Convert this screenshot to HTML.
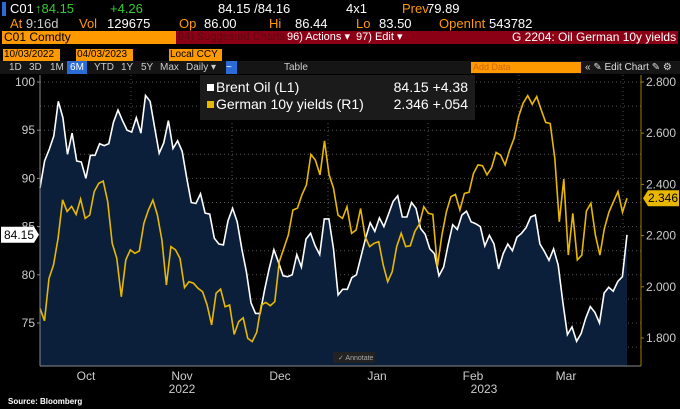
<!DOCTYPE html>
<html><head><meta charset="utf-8">
<style>
body{margin:0;width:680px;height:408px;background:#000;overflow:hidden;font-family:"Liberation Sans",sans-serif;color:#ddd;position:relative}
.t{position:absolute;white-space:nowrap;font-size:13px;line-height:14px}
.s{font-size:10px;line-height:13px;top:61px;color:#ccc}
</style></head><body>
<div>
<div class="t" style="left:2px;top:2px;width:4px;height:14px;background:#2a6bd8"></div>
<div class="t" style="left:10px;top:2px;color:#fff">C01</div>
<div class="t" style="left:35px;top:2px;color:#3c3">↑84.15</div>
<div class="t" style="left:110px;top:2px;color:#3c3">+4.26</div>
<div class="t" style="left:218px;top:2px;color:#fff">84.15 /84.16</div>
<div class="t" style="left:346px;top:2px;color:#fff">4x1</div>
<div class="t" style="left:402px;top:2px;color:#f90">Prev</div>
<div class="t" style="left:427px;top:2px;color:#fff">79.89</div>
<div class="t" style="left:10px;top:17px;color:#f90">At <span style="color:#ccc">9:16d</span></div>
<div class="t" style="left:79px;top:17px;color:#f90">Vol</div>
<div class="t" style="left:107px;top:17px;color:#fff">129675</div>
<div class="t" style="left:179px;top:17px;color:#f90">Op</div>
<div class="t" style="left:204px;top:17px;color:#fff">86.00</div>
<div class="t" style="left:269px;top:17px;color:#f90">Hi</div>
<div class="t" style="left:295px;top:17px;color:#fff">86.44</div>
<div class="t" style="left:356px;top:17px;color:#f90">Lo</div>
<div class="t" style="left:379px;top:17px;color:#fff">83.50</div>
<div class="t" style="left:439px;top:17px;color:#f90">OpenInt</div>
<div class="t" style="left:489px;top:17px;color:#fff">543782</div>
<div class="t" style="left:2px;top:31px;width:172px;height:13px;background:#f90;color:#000;font-size:12px;line-height:13px;padding-left:2px">C01 Comdty</div>
<div class="t" style="left:176px;top:31px;width:502px;height:13px;background:#8b0015"></div>
<div class="t" style="left:178px;top:31px;font-size:11px;line-height:13px;color:#5a0a12">94) Suggested Charts</div>
<div class="t" style="left:287px;top:31px;font-size:11px;line-height:13px;color:#fff">96) Actions ▾</div>
<div class="t" style="left:356px;top:31px;font-size:11px;line-height:13px;color:#fff">97) Edit ▾</div>
<div class="t" style="left:512px;top:31px;font-size:12px;line-height:13px;color:#fff">G 2204: Oil German 10y yields</div>
<div class="t" style="left:3px;top:49px;width:56px;background:#f90;color:#000;font-size:10px;line-height:12px;padding-left:1px">10/03/2022</div>
<div class="t" style="left:76px;top:49px;width:56px;background:#f90;color:#000;font-size:10px;line-height:12px;padding-left:1px">04/03/2023</div>
<div class="t" style="left:169px;top:49px;width:52px;background:#f90;color:#000;font-size:10px;line-height:12px;padding-left:1px">Local CCY</div>
<div class="t" style="left:0;top:61px;width:680px;height:13px;background:#151515"></div>
<div class="t s" style="left:9px">1D</div>
<div class="t s" style="left:29px">3D</div>
<div class="t s" style="left:50px">1M</div>
<div class="t s" style="left:67px;width:20px;background:#2a6bd8;color:#fff;text-align:center">6M</div>
<div class="t s" style="left:94px">YTD</div>
<div class="t s" style="left:121px">1Y</div>
<div class="t s" style="left:141px">5Y</div>
<div class="t s" style="left:160px">Max</div>
<div class="t s" style="left:186px">Daily ▾</div>
<div class="t s" style="left:226px;width:11px;background:#2a6bd8;color:#fff">~</div>
<div class="t s" style="left:284px">Table</div>
<div class="t" style="left:471px;top:62px;width:108px;height:11px;background:#f90;color:#c60;font-size:9px;line-height:11px;padding-left:2px">Add Data</div>
<div class="t s" style="left:585px;color:#ddd">« ✎ Edit Chart ✎ ⚙</div>
</div>
<svg id="c" width="680" height="408" style="position:absolute;left:0;top:0"></svg>
<div class="t" style="left:8px;top:395px;font-size:8px;font-weight:bold;color:#fff">Source: Bloomberg</div>
<script>
const brent=[89,91.8,93,94.4,98,96.3,92.5,94.7,91.8,91.7,90,92.4,92.4,93.6,93.4,93.6,95.8,97.1,96,95,94.8,96.3,94.7,98.6,98,95.3,92.6,93.7,96,93.1,93.9,92.8,90,87.5,87.4,88.4,86.4,86.3,83.8,83.2,83.1,85.6,86.9,85.5,82.7,80.3,77.1,76,76,78.5,80.7,82.6,81.3,79.9,79.8,80,82.1,80.8,83.7,84.3,83,82.1,85.8,85.8,82.7,
77.9,78.5,78.5,79.7,80,81.9,83.8,85.4,84.5,85.9,85,86.3,87.6,88.2,86,86,87.5,86.9,84.8,84.2,82.7,82.2,79.9,80.8,83.1,85.2,84.7,86.2,86.6,85.5,85.3,85,83,84.1,83.2,80.6,82.2,83.2,82.5,83.9,84.3,84.9,86,86.2,83.2,82.4,81.5,82.7,81,77.2,73.8,74.6,73.1,73.9,75.5,76.7,76.1,75,78.1,78.7,78.3,79.3,79.8,84.15];
const yields=[1.916,1.867,2.033,2.085,2.19,2.34,2.294,2.314,2.283,2.343,2.267,2.28,2.372,2.404,2.413,2.333,2.17,2.111,1.961,2.105,2.144,2.131,2.14,2.248,2.3,2.339,2.28,2.183,2.007,2.157,2.144,2.111,1.997,2.02,2.014,1.994,1.981,1.929,1.851,1.975,1.991,1.922,1.929,1.814,1.864,1.879,1.799,1.786,1.822,1.929,1.939,1.926,1.942,2.098,2.15,2.202,2.3,2.307,2.359,2.398,2.517,2.495,2.437,2.57,2.439,2.385,2.28,
2.267,2.313,2.209,2.222,2.306,2.196,2.157,2.17,2.176,2.085,2.02,2.059,2.157,2.209,2.157,2.16,2.216,2.244,2.313,2.287,2.283,2.079,2.202,2.293,2.352,2.361,2.3,2.365,2.369,2.443,2.476,2.473,2.437,2.465,2.525,2.514,2.476,2.534,2.58,2.665,2.717,2.747,2.713,2.743,2.691,2.642,2.638,2.502,2.254,2.421,2.124,2.287,2.105,2.124,2.296,2.326,2.202,2.124,2.228,2.291,2.333,2.372,2.291,2.346];
const leftTicks=[100,95,90,85,80,75];
const rightTicks=[2.8,2.6,2.4,2.2,2.0,1.8];
const months=["Oct","Nov","Dec","Jan","Feb","Mar"];
const years=["2022","2023"];
const svg=document.getElementById('c');const NS="http://www.w3.org/2000/svg";
const X0=40,X1=627,YT=75,YB=366;
const yL=v=>82+(100-v)*9.64;
const yR=v=>82+(2.8-v)*256;
const xi=(i,n)=>X0+i*(X1-X0)/(n-1);
function mk(t,a,p){const e=document.createElementNS(NS,t);for(const k in a)e.setAttribute(k,a[k]);(p||svg).appendChild(e);return e;}
leftTicks.concat([72.5,77.5,82.5,87.5,92.5,97.5]).forEach(v=>{const g=mk('line',{x1:X0,x2:641,y1:yL(v),y2:yL(v),stroke:'#555','stroke-dasharray':'1,3'});

});
const mTicks=[131,232,328,428,519,623];
mTicks.forEach(x=>{const g=mk('line',{x1:x,x2:x,y1:YT,y2:YB,stroke:'#555','stroke-dasharray':'1,3'});

});
let pts=brent.map((v,i)=>xi(i,brent.length).toFixed(1)+','+yL(v).toFixed(1));
const area=mk('polygon',{points:X0+','+YB+' '+pts.join(' ')+' '+X1+','+YB,fill:'#0b1f3a'});


const bl=mk('polyline',{points:pts.join(' '),fill:'none',stroke:'#fff','stroke-width':1.6});


const yp=yields.map((v,i)=>xi(i,yields.length).toFixed(1)+','+yR(v).toFixed(1));
const yl=mk('polyline',{points:yp.join(' '),fill:'none',stroke:'#e8b800','stroke-width':1.6});


const ax=mk('line',{x1:X0,x2:X0,y1:YT,y2:YB,stroke:'#888'});
const bx=mk('line',{x1:X0,x2:641,y1:YB,y2:YB,stroke:'#888'});
const rx=mk('line',{x1:641,x2:641,y1:YT,y2:YB,stroke:'#a08000'});
leftTicks.forEach(v=>{const t=mk('text',{x:35,y:yL(v)+4,'text-anchor':'end',fill:'#ccc','font-size':12,'font-family':'Liberation Sans'});t.textContent=v;


mk('line',{x1:37,x2:X0,y1:yL(v),y2:yL(v),stroke:'#888'});});
rightTicks.forEach(v=>{const t=mk('text',{x:646,y:yR(v)+4,fill:'#ccc','font-size':12,'font-family':'Liberation Sans'});t.textContent=v.toFixed(3);


mk('line',{x1:641,x2:644,y1:yR(v),y2:yR(v),stroke:'#a08000'});});
const mx=[86,182,280,377,473,566];
months.forEach((m,i)=>{const t=mk('text',{x:mx[i],y:380,'text-anchor':'middle',fill:'#ccc','font-size':12,'font-family':'Liberation Sans'});t.textContent=m;

});
years.forEach((y,i)=>{const t=mk('text',{x:[182,484][i],y:393,'text-anchor':'middle',fill:'#ccc','font-size':12,'font-family':'Liberation Sans'});t.textContent=y;

});
const lv=brent[brent.length-1],rv=yields[yields.length-1];
mk('path',{d:`M1 ${yL(lv)-8}H34L39 ${yL(lv)}L34 ${yL(lv)+8}H1Z`,fill:'#fff'});
const lt=mk('text',{x:4,y:yL(lv)+4,fill:'#000','font-size':12,'font-family':'Liberation Sans'});lt.textContent=lv.toFixed(2);


mk('path',{d:`M643 ${yR(rv)}L648 ${yR(rv)-8}H679V${yR(rv)+8}H648Z`,fill:'#e8b800'});
const rt=mk('text',{x:648,y:yR(rv)+4,fill:'#000','font-size':12,'font-family':'Liberation Sans'});rt.textContent=rv.toFixed(3);


const lg=mk('rect',{x:200,y:75,width:275,height:45,fill:'#1b1b1b'});
mk('rect',{x:207,y:84,width:7,height:7,fill:'#fff'});mk('rect',{x:207,y:101,width:7,height:7,fill:'#e8b800'});
[["Brent Oil (L1)","84.15 +4.38",92],["German 10y yields (R1)","2.346 +.054",109]].forEach(r=>{
const a=mk('text',{x:216,y:r[2],fill:'#fff','font-size':14,'font-family':'Liberation Sans'});a.textContent=r[0];


const b=mk('text',{x:468,y:r[2],'text-anchor':'end',fill:'#fff','font-size':14,'font-family':'Liberation Sans'});b.textContent=r[1];

});
const an=mk('rect',{x:333,y:352,width:42,height:11,fill:'#222'});
const at=mk('text',{x:338,y:360,fill:'#aaa','font-size':7,'font-family':'Liberation Sans'});at.textContent="✓ Annotate";
</script>
</body></html>
